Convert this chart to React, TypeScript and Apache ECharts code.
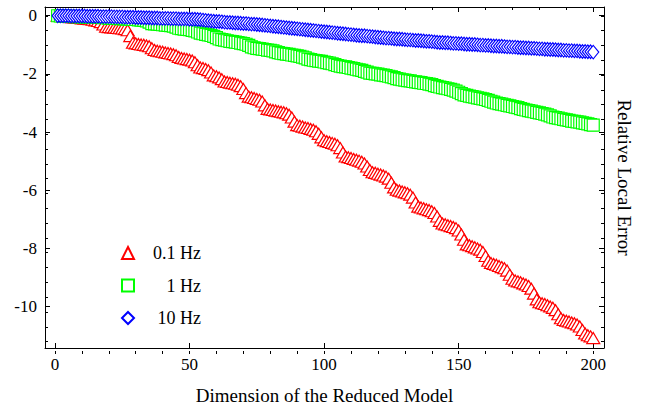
import React, { useEffect, useRef } from "react";
import * as echarts from "echarts";

const FONT = "'Liberation Serif', 'Times New Roman', serif";

const seriesNames = ["0.1 Hz", "1 Hz", "10 Hz"];
const seriesColors = ["#ff0000", "#00ff00", "#0000ff"];

const xTickLabels = [0, 50, 100, 150, 200];
const xMinorTicks = [0, 10, 20, 30, 40, 50, 60, 70, 80, 90, 100, 110, 120, 130, 140, 150, 160, 170, 180, 190, 200];
const yTickLabels = [-10, -8, -6, -4, -2, 0];
const yMinorTicks = [-11, -10.5, -10, -9.5, -9, -8.5, -8, -7.5, -7, -6.5, -6, -5.5, -5, -4.5, -4, -3.5, -3, -2.5, -2, -1.5, -1, -0.5, 0];

// reduced model dimensions 1..200
const dimensions = Array.from({ length: 200 }, (_, i) => i + 1);

const err01Hz = [
  0.0, -0.01, -0.02, -0.03, -0.04, -0.05, -0.06, -0.07, -0.08, -0.09,
  -0.1, -0.11, -0.12, -0.14, -0.16, -0.18, -0.22, -0.3,
  -0.38, -0.39, -0.4, -0.41, -0.42, -0.43, -0.44, -0.46, -0.5,
  -0.7,
  -0.93, -0.95, -0.97, -0.99, -1.0, -1.02, -1.05, -1.12,
  -1.18, -1.2, -1.22, -1.24, -1.26, -1.28, -1.3, -1.32, -1.36, -1.42,
  -1.45, -1.47, -1.49, -1.51, -1.54, -1.6, -1.7,
  -1.78, -1.8, -1.83, -1.87, -1.95,
  -2.05, -2.08, -2.12, -2.18,
  -2.26, -2.28, -2.3, -2.32, -2.34, -2.37, -2.42, -2.52, -2.66,
  -2.78, -2.8, -2.83, -2.86, -2.89, -2.95, -3.08,
  -3.2, -3.22, -3.24, -3.26, -3.28, -3.3, -3.32, -3.35, -3.4, -3.5, -3.64,
  -3.76, -3.78, -3.81, -3.84, -3.86, -3.89, -3.92, -3.97, -4.06, -4.18,
  -4.28, -4.31, -4.34, -4.37, -4.4, -4.45, -4.55, -4.7,
  -4.84, -4.86, -4.89, -4.92, -4.95, -4.98, -5.02, -5.08, -5.18, -5.3,
  -5.38, -5.4, -5.43, -5.46, -5.49, -5.53, -5.6, -5.74, -5.9,
  -5.98, -6.01, -6.04, -6.07, -6.1, -6.15, -6.25, -6.42,
  -6.56, -6.59, -6.62, -6.65, -6.68, -6.72, -6.78, -6.9, -7.05,
  -7.14, -7.17, -7.2, -7.23, -7.26, -7.3, -7.38, -7.52, -7.7,
  -7.86, -7.89, -7.92, -7.96, -8.0, -8.04, -8.12, -8.26, -8.42,
  -8.5, -8.53, -8.56, -8.6, -8.64, -8.68, -8.76, -8.9, -9.04,
  -9.1, -9.13, -9.16, -9.2, -9.24, -9.29, -9.38, -9.55, -9.75,
  -9.85, -9.88, -9.91, -9.95, -9.99, -10.04, -10.12, -10.26, -10.4,
  -10.46, -10.48, -10.51, -10.54, -10.57, -10.61, -10.68, -10.8, -10.92,
  -10.98, -11.02, -11.08,
];

const err1Hz = [
  0.0, -0.01, -0.01, -0.02, -0.02, -0.02, -0.03, -0.03, -0.03, -0.04, -0.04, -0.04,
  -0.05, -0.05, -0.05, -0.06, -0.06, -0.07, -0.07, -0.08, -0.08, -0.09, -0.09, -0.1,
  -0.1, -0.11, -0.11, -0.12, -0.13, -0.13, -0.14, -0.15, -0.16, -0.18, -0.22,
  -0.27, -0.28, -0.29, -0.3, -0.31, -0.32, -0.33, -0.34, -0.36, -0.39,
  -0.43, -0.44, -0.46, -0.47, -0.48, -0.5, -0.52, -0.56,
  -0.6, -0.62, -0.64, -0.66, -0.68, -0.71, -0.75,
  -0.8, -0.82, -0.84, -0.86, -0.88, -0.89, -0.91, -0.92, -0.94, -0.96, -0.98, -1.02, -1.07,
  -1.1, -1.12, -1.13, -1.15, -1.16, -1.18, -1.19, -1.21, -1.24, -1.27,
  -1.29, -1.3, -1.32, -1.33, -1.35, -1.36, -1.38, -1.4, -1.42, -1.45, -1.49,
  -1.51, -1.53, -1.54, -1.56, -1.57, -1.59, -1.61, -1.63, -1.65, -1.68, -1.71,
  -1.73, -1.75, -1.76, -1.78, -1.8, -1.82, -1.84, -1.86, -1.88, -1.91, -1.94,
  -1.97, -1.98, -2.0, -2.01, -2.03, -2.04, -2.06, -2.08, -2.1, -2.13,
  -2.16, -2.18, -2.2, -2.21, -2.23, -2.24, -2.26, -2.27, -2.29, -2.3, -2.32, -2.33, -2.35, -2.37, -2.4,
  -2.43, -2.45, -2.47, -2.49, -2.51, -2.53, -2.56, -2.59, -2.63, -2.68,
  -2.72, -2.74, -2.76, -2.78, -2.8, -2.82, -2.84, -2.86, -2.88, -2.91, -2.94, -2.97,
  -3.0, -3.02, -3.04, -3.06, -3.08, -3.1, -3.12, -3.14, -3.16, -3.19, -3.22,
  -3.24, -3.26, -3.28, -3.3, -3.32, -3.34, -3.36, -3.38, -3.41, -3.44, -3.48,
  -3.5, -3.52, -3.54, -3.56, -3.58, -3.6, -3.62, -3.63, -3.65, -3.66, -3.68, -3.7, -3.72, -3.74, -3.76,
];

const err10Hz = [
  0.0, 0.0, 0.0, 0.0, 0.0, -0.01, -0.01, -0.01, -0.01, -0.01, -0.01, -0.02, -0.02, -0.02, -0.02, -0.02, -0.03, -0.03, -0.03, -0.03,
  -0.03, -0.04, -0.04, -0.04, -0.04, -0.05, -0.05, -0.05, -0.05, -0.06, -0.06, -0.06, -0.07, -0.07, -0.07, -0.08, -0.08, -0.08, -0.09, -0.09,
  -0.09, -0.09, -0.1, -0.1, -0.1, -0.11, -0.11, -0.11, -0.11, -0.12, -0.12, -0.12, -0.13, -0.14,
  -0.15, -0.16, -0.17, -0.18, -0.19, -0.2, -0.2, -0.21, -0.22, -0.23, -0.23, -0.24, -0.25, -0.25, -0.26, -0.27, -0.27, -0.28, -0.29, -0.29, -0.3, -0.31,
  -0.32, -0.33, -0.34, -0.35, -0.36, -0.37, -0.38, -0.39, -0.4, -0.41, -0.42, -0.43, -0.44, -0.45, -0.46, -0.47, -0.48, -0.49, -0.5, -0.51, -0.52, -0.53,
  -0.54, -0.55, -0.56, -0.57, -0.58, -0.59, -0.6, -0.61, -0.62, -0.63, -0.64, -0.65, -0.66, -0.67, -0.68, -0.69, -0.69, -0.7, -0.71, -0.72, -0.73, -0.74, -0.75,
  -0.76, -0.77, -0.77, -0.78, -0.79, -0.8, -0.8, -0.81, -0.82, -0.83, -0.83, -0.84, -0.85, -0.85, -0.86, -0.87, -0.88, -0.88, -0.89, -0.9, -0.91, -0.92,
  -0.92, -0.93, -0.93, -0.94, -0.95, -0.95, -0.96, -0.96, -0.97, -0.98, -0.98, -0.99, -0.99, -1.0, -1.01, -1.01, -1.02, -1.02, -1.03, -1.04, -1.04, -1.05, -1.05, -1.06, -1.07, -1.07, -1.08,
  -1.08, -1.09, -1.1, -1.1, -1.11, -1.11, -1.12, -1.12, -1.13, -1.14, -1.14, -1.15, -1.15, -1.16, -1.16, -1.17, -1.18, -1.18, -1.19, -1.19, -1.2, -1.2, -1.21, -1.21, -1.22, -1.23, -1.23, -1.24, -1.24, -1.25,
];

const seriesValues = [err01Hz, err1Hz, err10Hz];
const seriesSymbols = ["triangle", "rect", "diamond"];
const seriesSymbolSizes: any[] = [[13, 11], [12, 12], [11, 13.5]];

const X_MIN = -3.7;
const X_MAX = 204;
const Y_MIN = -11.42;
const Y_MAX = 0.3;

export default function App() {
  const ref = useRef<HTMLDivElement>(null);

  useEffect(() => {
    if (!ref.current) return;
    const chart = echarts.init(ref.current, undefined, { renderer: "svg" });

    const lineStyle = { color: "#000", width: 1 };
    const gridRect = { left: 45, right: 55, top: 7, bottom: 56 };

    const xAxisBase = (grid: number, position: string) => ({
      type: "value",
      gridIndex: grid,
      position,
      min: X_MIN,
      max: X_MAX,
      splitLine: { show: false },
      axisLine: { show: grid === 0, onZero: false, lineStyle },
    });
    const yAxisBase = (grid: number, position: string) => ({
      type: "value",
      gridIndex: grid,
      position,
      min: Y_MIN,
      max: Y_MAX,
      splitLine: { show: false },
      axisLine: { show: grid === 0, onZero: false, lineStyle },
    });

    const option: any = {
      animation: false,
      backgroundColor: "#fff",
      textStyle: { fontFamily: FONT, color: "#000" },
      grid: [{ ...gridRect }, { ...gridRect }],
      xAxis: [
        {
          ...xAxisBase(0, "bottom"),
          axisTick: { inside: true, length: 5, customValues: xTickLabels, lineStyle },
          axisLabel: { customValues: xTickLabels, color: "#000", fontSize: 17, fontFamily: FONT, margin: 8 },
          name: "Dimension of the Reduced Model",
          nameLocation: "middle",
          nameGap: 38,
          nameTextStyle: { fontSize: 19, fontFamily: FONT, color: "#000" },
        },
        {
          ...xAxisBase(0, "top"),
          axisTick: { inside: true, length: 5, customValues: xTickLabels, lineStyle },
          axisLabel: { show: false },
        },
        {
          ...xAxisBase(1, "bottom"),
          axisTick: { inside: true, length: 3, customValues: xMinorTicks, lineStyle },
          axisLabel: { show: false },
        },
        {
          ...xAxisBase(1, "top"),
          axisTick: { inside: true, length: 3, customValues: xMinorTicks, lineStyle },
          axisLabel: { show: false },
        },
      ],
      yAxis: [
        {
          ...yAxisBase(0, "left"),
          axisTick: { inside: true, length: 5, customValues: yTickLabels, lineStyle },
          axisLabel: { customValues: yTickLabels, color: "#000", fontSize: 17, fontFamily: FONT, margin: 8 },
        },
        {
          ...yAxisBase(0, "right"),
          axisTick: { inside: true, length: 5, customValues: yTickLabels, lineStyle },
          axisLabel: { show: false },
          name: "Relative Local Error",
          nameLocation: "middle",
          nameRotate: -90,
          nameGap: 11,
          nameTextStyle: { fontSize: 19, fontFamily: FONT, color: "#000" },
        },
        {
          ...yAxisBase(1, "left"),
          axisTick: { inside: true, length: 3, customValues: yMinorTicks, lineStyle },
          axisLabel: { show: false },
        },
        {
          ...yAxisBase(1, "right"),
          axisTick: { inside: true, length: 3, customValues: yMinorTicks, lineStyle },
          axisLabel: { show: false },
        },
      ],
      legend: {
        data: seriesNames,
        orient: "vertical",
        left: 121,
        top: 244,
        padding: 0,
        itemWidth: 12,
        itemHeight: 12,
        itemGap: 14.5,
        selectedMode: false,
        formatter: (name: string) => `{r|${name}}`,
        textStyle: {
          fontFamily: FONT,
          fontSize: 18,
          color: "#000",
          rich: { r: { width: 62, align: "right", fontFamily: FONT, fontSize: 18, color: "#000" } },
        },
      },
      series: seriesNames.map((name, s) => ({
        name,
        type: "scatter",
        xAxisIndex: 0,
        yAxisIndex: 0,
        symbol: seriesSymbols[s],
        symbolSize: seriesSymbolSizes[s],
        silent: true,
        itemStyle: { color: "#ffffff", borderColor: seriesColors[s], borderWidth: 1.2, opacity: 1 },
        data: dimensions.map((d, i) => [d, seriesValues[s][i]]),
      })),
    };

    chart.setOption(option);
    return () => chart.dispose();
  }, []);

  return (
    <div
      ref={ref}
      style={{ position: "fixed", left: 0, top: 0, width: 659, height: 410, background: "#fff" }}
    />
  );
}
